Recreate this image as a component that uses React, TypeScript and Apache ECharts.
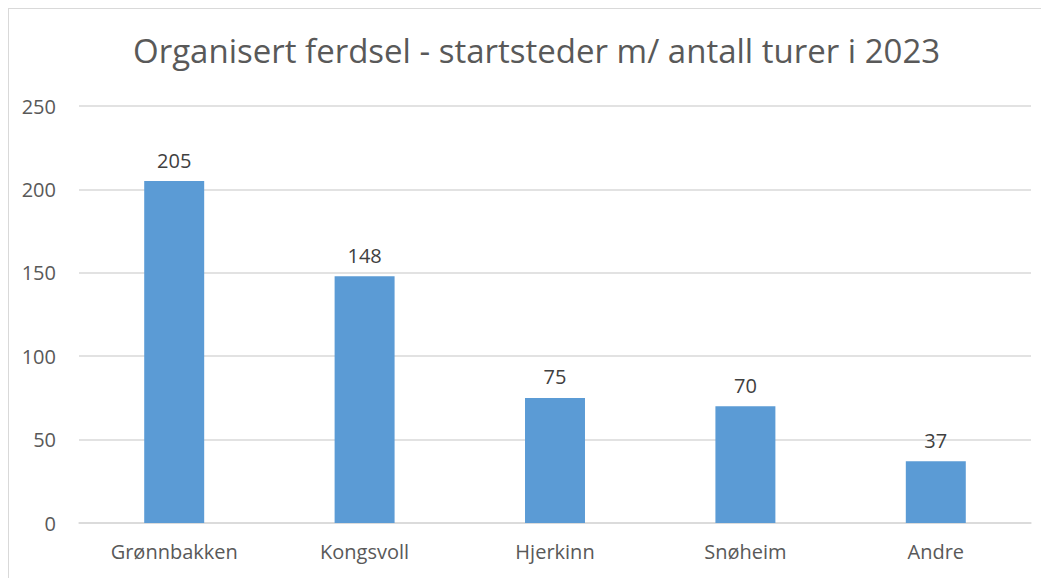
import React, { useEffect, useRef } from "react";
import * as echarts from "echarts";

const categories = ["Grønnbakken", "Kongsvoll", "Hjerkinn", "Snøheim", "Andre"];
const values = [205, 148, 75, 70, 37];
const yTicks = [0, 50, 100, 150, 200, 250];
const titleText = "Organisert ferdsel - startsteder m/ antall turer i 2023";

export default function App() {
  const ref = useRef<HTMLDivElement>(null);
  useEffect(() => {
    const chart = echarts.init(ref.current!, undefined, { renderer: "svg" });
    chart.setOption({
      animation: false,
      backgroundColor: "#fff",
      title: {
        text: titleText,
        left: 119,
        top: 20,
        textStyle: { fontFamily: "Open Sans", fontSize: 33, fontWeight: "normal", color: "#595959" },
      },
      grid: { left: 70, top: 97, width: 952, height: 417 },
      xAxis: {
        type: "category",
        data: categories,
        axisLine: { lineStyle: { color: "#d9d9d9", width: 1.5 } },
        axisTick: { show: false },
        axisLabel: { fontFamily: "Open Sans", fontSize: 20, color: "#595959", margin: 18 },
      },
      yAxis: {
        type: "value",
        min: yTicks[0],
        max: yTicks[yTicks.length - 1],
        interval: 50,
        axisLine: { show: false },
        axisTick: { show: false },
        splitLine: { lineStyle: { color: "#d9d9d9", width: 1.5 } },
        axisLabel: { fontFamily: "Open Sans", fontSize: 20, color: "#595959", margin: 23 },
      },
      series: [
        {
          type: "bar",
          data: values,
          barWidth: "31.5%",
          itemStyle: { color: "#5b9bd5" },
          label: {
            show: true,
            position: "top",
            distance: 11,
            fontFamily: "Open Sans",
            fontSize: 20,
            color: "#404040",
          },
        },
      ],
    });
    return () => chart.dispose();
  }, []);
  return (
    <div
      style={{
        borderTop: "2px solid #d9d9d9",
        borderLeft: "2px solid #d9d9d9",
        width: 1039,
        height: 569,
        margin: "-1px 0 0 -1px",
        overflow: "hidden",
      }}
    >
      <div ref={ref} style={{ width: 1039, height: 569 }} />
    </div>
  );
}
